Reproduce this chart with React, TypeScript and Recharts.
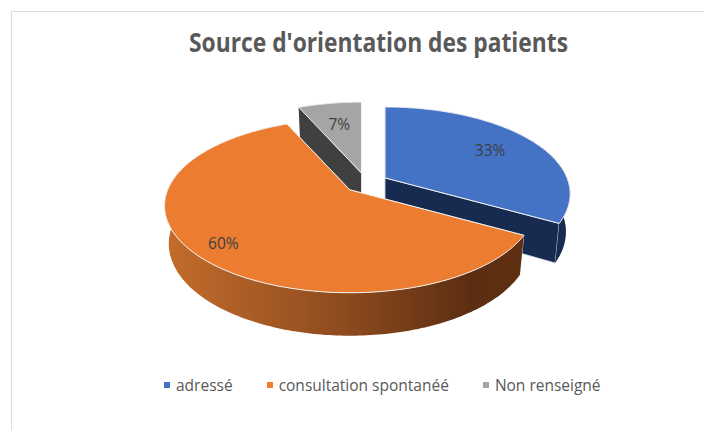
import { Legend, Pie, PieChart } from "recharts"

const categories = ["adressé", "consultation spontanéé", "Non renseigné"]
const shares = [33.2, 60.2, 6.6]
const topColors = ["#4472c4", "#eb7c30", "#a5a5a5"]
const sideColors = ["#172b50", "url(#orangeWall)", "#404040"]
const labelFractions = [0.73, 0.82, 0.7]

const data = categories.map((name, i) => ({ name, value: shares[i], fill: topColors[i] }))

// the pie is drawn in perspective, these were fitted on the picture
const TILT = 0.4615
const PERSPECTIVE = 0.184
const DEPTH = 37
const BOTTOM_SCALE = 0.977
const EXPLODE = 22
const RAD = Math.PI / 180

function project(radius: number, angle: number, fraction = 1) {
  const c = Math.cos(angle * RAD)
  const s = Math.sin(angle * RAD)
  const w = 1 + PERSPECTIVE * s
  return { x: (radius * fraction * c) / w, y: (-radius * fraction * TILT * s) / w, w }
}

function apex(cx: number, cy: number, midAngle: number) {
  return {
    x: cx + EXPLODE * Math.cos(midAngle * RAD),
    y: cy - EXPLODE * TILT * Math.sin(midAngle * RAD),
  }
}

function topPoint(o: { x: number; y: number }, radius: number, angle: number) {
  const p = project(radius, angle)
  return `${(o.x + p.x).toFixed(1)},${(o.y + p.y).toFixed(1)}`
}

function bottomPoint(o: { x: number; y: number }, radius: number, angle: number) {
  const p = project(radius, angle)
  return `${(o.x + p.x * BOTTOM_SCALE).toFixed(1)},${(o.y + p.y * BOTTOM_SCALE + DEPTH / p.w).toFixed(1)}`
}

function arcAngles(start: number, end: number) {
  const steps = Math.ceil(Math.abs(end - start))
  const out: number[] = []
  for (let i = 0; i <= steps; i++) out.push(start + ((end - start) * i) / steps)
  return out
}

function slice3d(only: number[]) {
  return (props: any) => {
    const { cx, cy, outerRadius, startAngle, endAngle, index, fill } = props
    if (!only.includes(index)) return <g />
    const mid = (startAngle + endAngle) / 2
    const o = apex(cx, cy, mid)
    const angles = arcAngles(startAngle, endAngle)
    const top = angles.map((a) => topPoint(o, outerRadius, a))
    const bottom = angles.map((a) => bottomPoint(o, outerRadius, a))
    const oTop = `${o.x.toFixed(1)},${o.y.toFixed(1)}`
    const oBottom = `${o.x.toFixed(1)},${(o.y + DEPTH).toFixed(1)}`
    const side = sideColors[index]
    return (
      <g>
        {[0, angles.length - 1].map((k) => (
          <polygon
            key={k}
            points={[oTop, top[k], bottom[k], oBottom].join(" ")}
            fill={side}
            stroke="#dfe3ea"
            strokeWidth={0.8}
          />
        ))}
        <polygon points={[...top, ...[...bottom].reverse()].join(" ")} fill={side} />
        <polygon points={[oTop, ...top].join(" ")} fill={fill} stroke="#f4f4f4" strokeWidth={1} />
      </g>
    )
  }
}

function renderLabel(props: any) {
  const { cx, cy, midAngle, outerRadius, percent, index } = props
  const o = apex(cx, cy, midAngle)
  const p = project(outerRadius, midAngle, labelFractions[index])
  return (
    <text
      x={o.x + p.x}
      y={o.y + p.y}
      textAnchor="middle"
      dominantBaseline="central"
      fontFamily="'Open Sans', sans-serif"
      fontSize={15.5}
      fill="#404040"
    >
      {Math.round(percent * 100)}%
    </text>
  )
}

function renderLegend() {
  return (
    <div style={{ display: "flex", alignItems: "center", fontFamily: "'Open Sans', sans-serif", fontSize: 15.5, color: "#595959", whiteSpace: "nowrap" }}>
      {categories.map((name, i) => (
        <span key={name} style={{ display: "flex", alignItems: "center", marginRight: 34 }}>
          <span style={{ width: 6, height: 6, background: topColors[i], marginRight: 6 }} />
          {name}
        </span>
      ))}
    </div>
  )
}

export default function App() {
  return (
    <div style={{ marginLeft: 3, marginTop: 3, borderLeft: "1px solid #dcdcdc", borderTop: "1px solid #dcdcdc", width: 700, height: 418 }}>
      <PieChart width={700} height={418} margin={{ top: 0, right: 0, bottom: 0, left: 0 }}>
        <defs>
          <linearGradient id="orangeWall" x1="0" y1="0" x2="1" y2="0">
            <stop offset="0" stopColor="#c46c2c" />
            <stop offset="0.5" stopColor="#8d4b1e" />
            <stop offset="0.85" stopColor="#5c2e11" />
            <stop offset="1" stopColor="#5f3011" />
          </linearGradient>
        </defs>
        <text
          x={366.5}
          y={40}
          textAnchor="middle"
          fontFamily="'Open Sans', sans-serif"
          fontWeight={700}
          fontSize={26}
          textLength={379}
          lengthAdjust="spacingAndGlyphs"
          fill="#595959"
        >
          Source d'orientation des patients
        </text>
        <Pie
          data={data}
          dataKey="value"
          nameKey="name"
          cx={354}
          cy={171}
          outerRadius={182}
          startAngle={90}
          endAngle={-270}
          stroke="none"
          shape={slice3d([0, 2])}
          isAnimationActive={false}
        />
        <Pie
          data={data}
          dataKey="value"
          nameKey="name"
          cx={354}
          cy={171}
          outerRadius={182}
          startAngle={90}
          endAngle={-270}
          stroke="none"
          shape={slice3d([1])}
          label={renderLabel}
          labelLine={false}
          legendType="none"
          isAnimationActive={false}
        />
        <Legend content={renderLegend} wrapperStyle={{ left: 152, top: 362, width: "auto" }} />
      </PieChart>
    </div>
  )
}
